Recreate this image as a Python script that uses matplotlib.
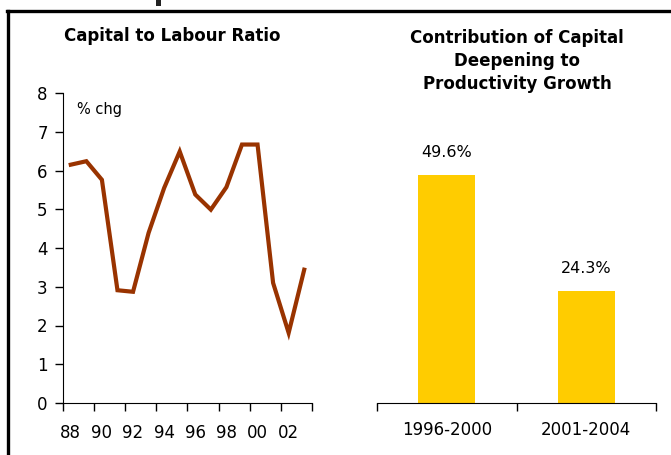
import matplotlib.pyplot as plt
from matplotlib.lines import Line2D
from matplotlib.patches import Rectangle

plt.rcParams['font.family'] = ['DejaVu Sans']

# capital to labour ratio, % chg, 1988-2003
years = ['88', '89', '90', '91', '92', '93', '94', '95',
         '96', '97', '98', '99', '00', '01', '02', '03']
ratio = [6.15, 6.24, 5.76, 2.91, 2.87, 4.39, 5.55, 6.49,
         5.38, 4.99, 5.57, 6.67, 6.67, 3.10, 1.81, 3.44]

# contribution of capital deepening to productivity growth
periods = ['1996-2000', '2001-2004']
contrib = [49.6, 24.3]
contrib_labels = ['49.6%', '24.3%']

line_col = '#993300'
bar_col = '#FFCC00'

fig = plt.figure(figsize=(6.71, 4.55), dpi=100)

# frame lines (top and left) like the source page
fig.add_artist(Line2D([7 / 671, 1], [1 - 11 / 455, 1 - 11 / 455], color='black', lw=2.4))
fig.add_artist(Line2D([7.5 / 671, 7.5 / 671], [0, 1 - 11 / 455], color='black', lw=2.4))
# bit of a cut-off heading above the frame
fig.add_artist(Rectangle((156 / 671, 1 - 6 / 455), 5 / 671, 6 / 455,
                         transform=fig.transFigure, color='#222222', lw=0))

# left panel
ax1 = fig.add_axes([63 / 671, 52 / 455, 249 / 671, 310 / 455])
x = range(len(years))
ax1.plot(x, ratio, color=line_col, lw=3, solid_joinstyle='miter')
ax1.set_xlim(-0.5, len(years) - 0.5)
ax1.set_ylim(0, 8)
ax1.set_yticks(range(0, 9))
ax1.set_xticks([i - 0.5 for i in range(0, len(years) + 1, 2)])
ax1.set_xticklabels([])
ax1.set_xticks(list(range(0, len(years), 2)), minor=True)
ax1.set_xticklabels(years[::2], minor=True)
ax1.tick_params(axis='x', which='major', direction='out', length=6, width=1)
ax1.tick_params(axis='x', which='minor', length=0, pad=15, labelsize=12)
ax1.tick_params(axis='y', direction='out', length=6, width=1, pad=5, labelsize=12)
for s in ['top', 'right']:
    ax1.spines[s].set_visible(False)
ax1.text(0.055, 0.97, '% chg', transform=ax1.transAxes, fontsize=10.5, va='top', ha='left')
fig.text(172 / 671, 1 - 36 / 455, 'Capital to Labour Ratio', fontsize=12, fontweight='bold',
         ha='center', va='center')

# right panel
ax2 = fig.add_axes([377 / 671, 52 / 455, 279 / 671, 310 / 455])
bx = range(len(periods))
ax2.bar(bx, contrib, width=0.41, color=bar_col)
ax2.set_xlim(-0.5, len(periods) - 0.5)
ax2.set_ylim(0, 67.4)
for i, v in enumerate(contrib):
    ax2.text(i, v + 3.3, contrib_labels[i], ha='center', va='bottom', fontsize=11.5)
ax2.set_xticks([-0.5, 0.5, 1.5])
ax2.set_xticklabels([])
ax2.set_xticks(list(bx), minor=True)
ax2.set_xticklabels(periods, minor=True)
ax2.tick_params(axis='x', which='major', direction='out', length=6, width=1)
ax2.tick_params(axis='x', which='minor', length=0, pad=13, labelsize=12)
ax2.set_yticks([])
for s in ['top', 'right', 'left']:
    ax2.spines[s].set_visible(False)
fig.text(517 / 671, 1 - 61 / 455, 'Contribution of Capital\nDeepening to\nProductivity Growth',
         fontsize=12, fontweight='bold', ha='center', va='center', linespacing=1.35)

fig.savefig('out.png', dpi=100)
